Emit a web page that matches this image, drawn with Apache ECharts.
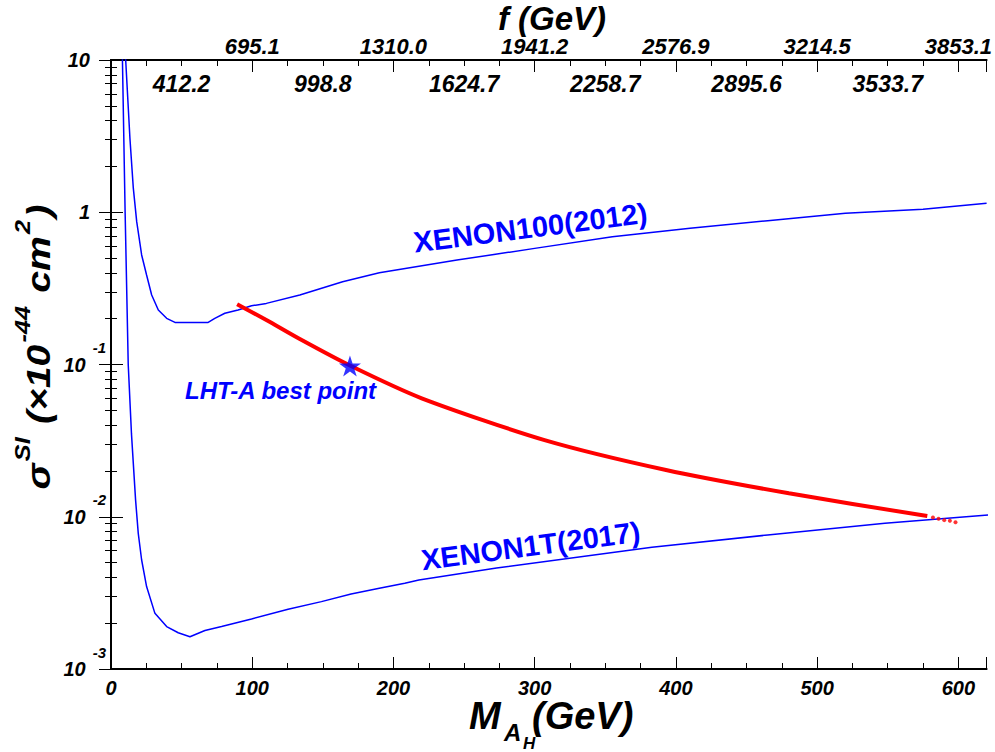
<!DOCTYPE html>
<html><head><meta charset="utf-8">
<script src="https://cdn.jsdelivr.net/npm/echarts@6/dist/echarts.min.js"></script>
<style>html,body{margin:0;padding:0;background:#fff}#c{width:995px;height:752px}</style>
</head><body><div id="c"></div>
<script>
// ---- data ----
const xenon100 = [[9.9,15],[10.4,10],[13.4,3.06],[15.8,1.44],[18.2,0.867],[21.7,0.524],[25.2,0.387],[28.8,0.286],[33.5,0.228],[39.4,0.201],[45.3,0.189],[68.8,0.189],[73.5,0.201],[80.6,0.217],[90,0.228],[99.5,0.243],[110,0.252],[133.7,0.286],[164,0.35],[190,0.40],[245,0.485],[300,0.579],[355,0.691],[410,0.784],[465,0.88],[520,0.984],[575,1.045],[620,1.146]];
const xenon1t = [[7.9,15],[8.1,10],[10.0,1.0],[12.2,0.1],[14.5,0.035],[17.4,0.0129],[19.3,0.00778],[21.7,0.0052],[25.2,0.00348],[31.1,0.00232],[39.4,0.0019],[47.6,0.00173],[55.9,0.00163],[66.5,0.00179],[78.3,0.0019],[99.5,0.00213],[125.4,0.00247],[149,0.00277],[170,0.00311],[190,0.00339],[208,0.00366],[218,0.00384],[273,0.0046],[383,0.0063],[465,0.00759],[548,0.00906],[621,0.01026]];
const lhtCurve = [[89.3,0.249],[110,0.196],[133.7,0.147],[169.2,0.0985],[220,0.060],[307,0.0319],[393,0.0203],[480,0.01426],[578,0.0101]];
const lhtTail = [[582,0.0099],[586,0.0097],[590,0.0095],[594,0.0094],[598,0.0092]];
const bestPoint = [[169.2,0.0977]];
const massLabelTicks = [0,100,200,300,400,500,600];
const fOuterTicks = [100,200,300,400,500,600];
const fOuterLabels = ['695.1','1310.0','1941.2','2576.9','3214.5','3853.1'];
const fInnerTicks = [50,150,250,350,450,550];
const fInnerLabels = ['412.2','998.8','1624.7','2258.7','2895.6','3533.7'];
const yMinorTicks = [0.002,0.003,0.004,0.005,0.006,0.007,0.008,0.009,
  0.02,0.03,0.04,0.05,0.06,0.07,0.08,0.09,
  0.2,0.3,0.4,0.5,0.6,0.7,0.8,0.9,
  2,3,4,5,6,7,8,9];

const FONT = '"Liberation Sans", Arial, Helvetica, sans-serif';
const BLUE = '#0000ff', RED = '#ff0000';
const STAR = 'path://M0,-1L0.2245,-0.309L0.951,-0.309L0.363,0.118L0.588,0.809L0,0.382L-0.588,0.809L-0.363,0.118L-0.951,-0.309L-0.2245,-0.309Z';

const lbl = (size) => ({fontSize:size, fontWeight:'bold', fontStyle:'italic', fontFamily:FONT, color:'#000'});
const AXLINE = {show:true, lineStyle:{color:'#000', width:2}};
const majorTick = {show:true, inside:true, length:12, lineStyle:{color:'#000', width:1}};
const minorTickS = {show:true, inside:true, length:6, lineStyle:{color:'#000', width:1}};

function baseX(extra){
  return Object.assign({type:'value', min:0, max:620, splitLine:{show:false},
    axisLine:{show:false}, axisTick:{show:false}, axisLabel:{show:false}}, extra);
}
function baseY(extra){
  return Object.assign({type:'log', logBase:10, min:0.001, max:10, splitLine:{show:false},
    axisLine:{show:false}, axisTick:{show:false}, axisLabel:{show:false}}, extra);
}

const chart = echarts.init(document.getElementById('c'), null, {renderer:'svg'});
chart.setOption({
  animation:false,
  backgroundColor:'#fff',
  grid:{left:111, right:7, top:60, bottom:83, containLabel:false},
  xAxis:[
    baseX({position:'bottom', interval:100, axisLine:AXLINE, axisTick:majorTick,
      axisLabel:Object.assign({show:true, margin:9,
        formatter:v => massLabelTicks.indexOf(v) >= 0 ? String(v) : ''}, lbl(20))}),
    baseX({position:'top', interval:100, axisLine:AXLINE, axisTick:majorTick,
      axisLabel:Object.assign({show:true, margin:3,
        formatter:v => { const i = fOuterTicks.indexOf(v); return i >= 0 ? fOuterLabels[i] : ''; }}, lbl(22))}),
    baseX({position:'top', interval:25, axisTick:minorTickS}),
    baseX({position:'bottom', interval:25, axisTick:minorTickS}),
    baseX({position:'top', interval:50,
      axisLabel:Object.assign({show:true, inside:true, margin:12,
        formatter:v => { const i = fInnerTicks.indexOf(v); return i >= 0 ? fInnerLabels[i] : ''; }}, lbl(23))})
  ],
  yAxis:[
    baseY({position:'left', axisLine:AXLINE, axisTick:majorTick,
      axisLabel:{show:true, margin:5,
        formatter:v => { const e = Math.round(Math.log10(v));
          if (e === 1) return '{p|10}'; if (e === 0) return '{p|1}';
          return '{b|10}{s|' + e + '}'; },
        rich:{
          p:Object.assign({padding:[0,16,0,0]}, lbl(20)),
          b:lbl(20),
          s:Object.assign({padding:[0,0,34,7]}, lbl(15))
        }}}),
    baseY({position:'right', axisLine:AXLINE, axisTick:majorTick}),
    baseY({position:'left', axisTick:Object.assign({customValues:yMinorTicks}, minorTickS)}),
    baseY({position:'right', axisTick:Object.assign({customValues:yMinorTicks}, minorTickS)})
  ],
  series:[
    {type:'line', name:'XENON100(2012)', data:xenon100, xAxisIndex:0, yAxisIndex:0, symbol:'none',
      lineStyle:{color:BLUE, width:1.5}, z:2},
    {type:'line', name:'XENON1T(2017)', data:xenon1t, xAxisIndex:0, yAxisIndex:0, symbol:'none',
      lineStyle:{color:BLUE, width:1.5}, z:2},
    {type:'line', name:'LHT-A', data:lhtCurve, xAxisIndex:0, yAxisIndex:0, symbol:'none',
      smooth:0.25, lineStyle:{color:RED, width:4}, z:3},
    {type:'scatter', data:lhtTail, xAxisIndex:0, yAxisIndex:0, symbol:'circle', symbolSize:4,
      itemStyle:{color:RED}, z:3},
    {type:'scatter', name:'LHT-A best point', data:bestPoint, xAxisIndex:0, yAxisIndex:0,
      symbol:STAR, symbolSize:22, symbolKeepAspect:true, itemStyle:{color:BLUE}, z:5}
  ],
  graphic:[
    {type:'text', x:552, y:18, style:{text:'f (GeV)', fontSize:33, lineHeight:28, fontWeight:'bold', fontStyle:'italic',
      fontFamily:FONT, fill:'#000', align:'center', verticalAlign:'middle'}},
    {type:'text', x:469, y:716, style:{text:'M', fontSize:38, lineHeight:32, fontWeight:'bold', fontStyle:'italic',
      fontFamily:FONT, fill:'#000', align:'left', verticalAlign:'middle'}},
    {type:'text', x:504, y:732, style:{text:'A', fontSize:24, fontWeight:'bold', fontStyle:'italic',
      fontFamily:FONT, fill:'#000', align:'left', verticalAlign:'middle'}},
    {type:'text', x:523, y:743, style:{text:'H', fontSize:17, fontWeight:'bold', fontStyle:'italic',
      fontFamily:FONT, fill:'#000', align:'left', verticalAlign:'middle'}},
    {type:'text', x:532, y:716, style:{text:'(GeV)', fontSize:38, lineHeight:32, fontWeight:'bold', fontStyle:'italic',
      fontFamily:FONT, fill:'#000', align:'left', verticalAlign:'middle'}},
    {type:'text', x:38, y:347, rotation:Math.PI/2, scaleX:1.15,
      style:{text:'{a|σ}{s|SI}{a| (×10}{s|-44}{a| cm}{s|2}{a|)}', align:'center', verticalAlign:'middle', fill:'#000',
        rich:{
          a:{fontSize:34, fontWeight:'bold', fontStyle:'italic', fontFamily:FONT, fill:'#000'},
          s:{fontSize:22, fontWeight:'bold', fontStyle:'italic', fontFamily:FONT, fill:'#000', padding:[0,2,30,2]}
        }}},
    {type:'text', x:413.7, y:242.7, rotation:7.3*Math.PI/180,
      style:{text:'XENON100(2012)', fontSize:29, fontWeight:'bold', fontFamily:FONT, fill:BLUE,
        align:'left', verticalAlign:'middle'}},
    {type:'text', x:421.4, y:560.4, rotation:7.5*Math.PI/180,
      style:{text:'XENON1T(2017)', fontSize:29, fontWeight:'bold', fontFamily:FONT, fill:BLUE,
        align:'left', verticalAlign:'middle'}},
    {type:'text', x:185, y:390, style:{text:'LHT-A best point', fontSize:24, fontWeight:'bold', fontStyle:'italic',
      fontFamily:FONT, fill:BLUE, align:'left', verticalAlign:'middle'}}
  ]
});
</script></body></html>
